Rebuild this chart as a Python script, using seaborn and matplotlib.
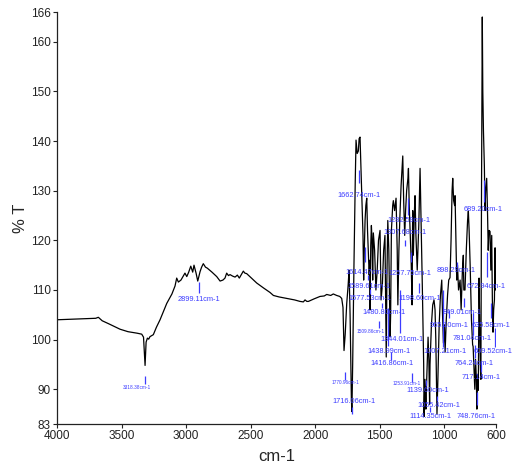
import pandas as pd
import matplotlib
matplotlib.use("Agg")
import matplotlib.pyplot as plt
import seaborn as sns

# spectrum (wavenumber cm-1, %T)
wavenumber = [4000, 3900, 3800, 3700, 3680, 3650, 3600, 3512, 3450, 3380, 3344, 3330, 3318, 3310, 3300,
              3290, 3280, 3254, 3230, 3202, 3150, 3110, 3086, 3073, 3060, 3040, 3022, 3009, 2995, 2980,
              2964, 2949, 2939, 2923, 2910, 2892, 2880, 2867, 2850, 2836, 2800, 2763, 2737, 2715, 2699,
              2686, 2672, 2660, 2640, 2621, 2603, 2588, 2570, 2557, 2545, 2531, 2490, 2453, 2400, 2350,
              2324, 2280, 2221, 2160, 2118, 2092, 2079, 2065, 2053, 2010, 1963, 1930, 1911, 1880, 1860,
              1834, 1810, 1795, 1785, 1777, 1768, 1756, 1745, 1738, 1730, 1720, 1716, 1710, 1700, 1690,
              1684, 1675, 1666, 1660, 1653, 1645, 1638, 1630, 1625, 1620, 1614, 1608, 1601, 1595, 1589,
              1582, 1577, 1575, 1570, 1565, 1560, 1555, 1550, 1540, 1530, 1520, 1510, 1498, 1490, 1480,
              1470, 1460, 1450, 1445, 1438, 1430, 1420, 1416, 1410, 1400, 1395, 1385, 1374, 1365, 1360,
              1352, 1344, 1335, 1322, 1315, 1307, 1300, 1292, 1282, 1278, 1272, 1265, 1257, 1250, 1245,
              1240, 1233, 1227, 1220, 1210, 1198, 1188, 1180, 1170, 1160, 1157, 1150, 1143, 1139, 1132,
              1126, 1120, 1114, 1111, 1100, 1090, 1080, 1072, 1066, 1057, 1050, 1040, 1030, 1020, 1014,
              1007, 1000, 994, 985, 975, 966, 956, 948, 940, 935, 928, 920, 917, 910, 904,
              898, 890, 878, 870, 860, 853, 849, 840, 830, 820, 814, 808, 800, 790, 781,
              777, 770, 764, 758, 752, 748, 744, 737, 731, 725, 720, 717, 712, 706, 702,
              697, 690, 685, 680, 672, 665, 660, 654, 646, 640, 633, 628, 623, 618, 612,
              607, 603, 600]
transmittance = [104.0, 104.1, 104.2, 104.3, 104.5, 103.8, 103.2, 102.1, 101.6, 101.3, 101.1, 100.5, 94.8, 99.5, 100.3,
                 100.1, 100.6, 101.0, 102.5, 104.0, 107.3, 109.2, 110.8, 112.4, 111.6, 112.0, 112.8, 113.4, 112.7, 113.6,
                 114.8, 113.6, 115.0, 113.4, 111.8, 113.7, 114.6, 115.3, 114.6, 114.4, 113.6, 112.7, 111.8, 112.0, 112.4,
                 113.4, 112.9, 113.1, 112.8, 112.6, 113.0, 112.4, 113.2, 113.8, 113.4, 113.3, 112.3, 111.4, 110.4, 109.5,
                 108.9, 108.6, 108.3, 108.0, 107.7, 107.6, 108.0, 107.7, 107.7, 108.2, 108.7, 108.8, 109.1, 108.9, 109.2,
                 108.9, 108.7, 108.3, 106.5, 97.8, 101.0, 107.3, 111.0, 114.0, 105.0, 88.0, 85.5, 95.0, 115.0, 132.0,
                 140.2, 137.5, 138.0, 140.5, 140.8, 134.0, 128.0, 121.0, 112.0, 118.0, 124.0, 127.0, 128.5, 122.0, 118.0,
                 113.0, 116.0, 106.0, 119.0, 123.0, 120.0, 112.0, 121.5, 118.0, 110.0, 114.0, 120.0, 122.0, 108.0, 111.0,
                 118.0, 121.0, 96.5, 112.0, 124.0, 118.0, 100.6, 105.0, 122.0, 127.0, 128.0, 126.0, 128.5, 118.0, 107.0,
                 118.0, 125.0, 131.0, 137.0, 128.0, 121.0, 126.0, 130.0, 132.5, 134.5, 127.0, 122.0, 116.0, 107.0, 126.0,
                 117.0, 125.0, 129.0, 121.0, 114.0, 123.0, 134.5, 124.0, 110.0, 95.0, 84.5, 92.0, 86.0, 90.0, 96.0,
                 100.5, 96.0, 87.0, 95.0, 103.0, 107.0, 108.0, 106.0, 100.0, 85.0, 92.0, 103.0, 109.0, 112.0, 105.0,
                 99.3, 103.0, 97.5, 104.0, 109.0, 112.0, 112.5, 120.0, 130.0, 132.5, 128.0, 127.0, 129.0, 120.0, 112.0,
                 115.0, 110.0, 112.0, 106.0, 114.0, 117.0, 110.0, 110.0, 118.0, 124.0, 125.9, 122.0, 115.0, 104.0, 99.0,
                 98.6, 94.0, 90.0, 96.0, 92.0, 86.0, 93.0, 89.8, 112.4, 101.0, 94.0, 92.0, 130.0, 165.0, 150.0,
                 142.0, 135.0, 126.0, 130.0, 132.5, 125.0, 118.0, 122.0, 121.8, 114.0, 121.0, 108.0, 101.5, 106.0, 108.0,
                 118.5, 110.0, 112.0]

# peak labels
peak_text = ["1662.74cm-1", "1614.47cm-1", "1589.61cm-1", "1577.53cm-1", "1480.80cm-1", "1509.86cm-1",
             "1344.01cm-1", "1438.99cm-1", "1416.86cm-1", "1770.96cm-1", "1716.06cm-1", "3318.38cm-1",
             "2899.11cm-1", "1282.59cm-1", "1307.68cm-1", "1257.75cm-1", "1198.60cm-1", "1253.91cm-1",
             "1139.60cm-1", "1055.42cm-1", "1114.35cm-1", "748.76cm-1", "898.29cm-1", "689.20cm-1",
             "672.94cm-1", "849.01cm-1", "965.10cm-1", "635.58cm-1", "781.04cm-1", "1007.21cm-1",
             "609.52cm-1", "764.24cm-1", "717.14cm-1"]
peak_wn = [1662.74, 1614.47, 1589.61, 1577.53, 1480.80, 1509.86, 1344.01, 1438.99, 1416.86, 1770.96,
           1716.06, 3318.38, 2899.11, 1282.59, 1307.68, 1257.75, 1198.60, 1253.91, 1139.60, 1055.42,
           1114.35, 748.76, 898.29, 689.20, 672.94, 849.01, 965.10, 635.58, 781.04, 1007.21,
           609.52, 764.24, 717.14]
tiny = [False, False, False, False, False, True, False, False, False, True, False, True,
        False, False, False, False, False, True, False, False, False, False, False, False,
        False, False, False, False, False, False, False, False, False]

# label layout (text left edge, text centre, marker span)
text_x = [1831, 1769, 1754, 1746, 1638, 1677, 1498, 1599, 1576, 1870, 1870, 3489,
          3063, 1444, 1475, 1436, 1359, 1398, 1297, 1212, 1274, 902, 1057, 848,
          825, 1010, 1111, 786, 933, 1165, 770, 918, 863]
text_y = [129.1, 113.6, 110.8, 108.2, 105.4, 101.7, 100.1, 97.7, 95.1, 91.3, 87.6, 90.3,
          108.0, 124.1, 121.5, 113.4, 108.2, 91.1, 89.8, 86.8, 84.6, 84.6, 114.0, 126.3,
          110.8, 105.4, 102.9, 102.9, 100.3, 97.7, 97.7, 95.1, 92.3]
mark_top = [134.2, 118.7, 113.0, 110.2, 107.4, 103.7, 110.0, 106.4, 97.5, 93.5, 86.4, 92.7,
            111.6, 128.5, 120.1, 117.6, 111.4, 93.3, 91.9, 88.6, 86.4, 89.4, 115.6, 132.2,
            117.6, 108.4, 106.0, 107.4, 105.4, 110.0, 102.3, 98.9, 95.5]
mark_bot = [131.5, 115.6, 112.0, 109.2, 106.4, 102.3, 101.3, 98.7, 95.9, 91.9, 85.0, 91.1,
            109.4, 125.1, 118.9, 115.6, 109.4, 91.5, 90.7, 87.6, 85.4, 86.8, 114.6, 127.7,
            112.6, 106.6, 104.4, 104.4, 100.9, 98.5, 98.5, 96.3, 93.5]

sns.set_style("ticks")
plt.rcParams["font.family"] = ["Liberation Sans Narrow", "Liberation Sans", "DejaVu Sans"]

df = pd.DataFrame({"wn": wavenumber, "T": transmittance})
fig = plt.figure(figsize=(5.16, 4.66), dpi=100)
ax = fig.add_axes([0.1105, 0.0901, 0.8507, 0.8841])
sns.lineplot(data=df, x="wn", y="T", sort=False, estimator=None, color="black", linewidth=0.9, ax=ax)

blue = "#3c3cff"
ax.vlines(peak_wn, mark_bot, mark_top, color=blue, linewidth=0.9)
for t, x, y, small in zip(peak_text, text_x, text_y, tiny):
    ax.text(x, y, t, color=blue, fontsize=3.4 if small else 5.3, ha="left", va="center")

ax.set_xlim(4000, 600)
ax.set_ylim(83, 166)
ax.set_xticks([4000, 3500, 3000, 2500, 2000, 1500, 1000, 600])
ax.set_yticks([83, 90, 100, 110, 120, 130, 140, 150, 160, 166])
ax.tick_params(direction="out", length=3, width=0.8, labelsize=8.5, pad=1.5, colors="#222222")
for s in ["top", "right"]:
    ax.spines[s].set_visible(False)
for s in ["left", "bottom"]:
    ax.spines[s].set_linewidth(0.9)
    ax.spines[s].set_color("#222222")
ax.set_xlabel("cm-1", fontsize=12, labelpad=5)
ax.set_ylabel("% T", fontsize=12, labelpad=2)

fig.savefig("out.png", dpi=100)
